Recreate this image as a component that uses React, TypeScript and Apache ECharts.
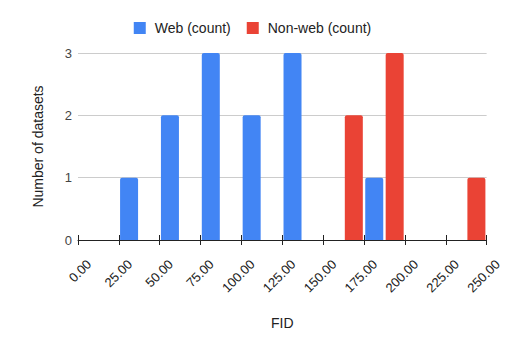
import React, { useEffect, useRef } from "react";
import * as echarts from "echarts";

const bucketSize = 12.5;
const webBucketStarts = [25, 50, 75, 100, 125, 175];
const webCounts = [1, 2, 3, 2, 3, 1];
const nonWebBucketStarts = [162.5, 187.5, 237.5];
const nonWebCounts = [2, 3, 1];
const xTicks = [0, 25, 50, 75, 100, 125, 150, 175, 200, 225, 250];
const yTicks = [0, 1, 2, 3];
const seriesNames = ["Web (count)", "Non-web (count)"];

export default function App() {
  const ref = useRef<HTMLDivElement>(null);
  useEffect(() => {
    document.body.style.margin = "0";
    const chart = echarts.init(ref.current!, null, { renderer: "svg" });
    const font = "'Liberation Sans', Arial, sans-serif";
    const webData = webBucketStarts.map((s, i) => [s + bucketSize / 2, webCounts[i]]);
    const nonWebData = nonWebBucketStarts.map((s, i) => [s + bucketSize / 2, nonWebCounts[i]]);
    const xMin = xTicks[0];
    const xMax = xTicks[xTicks.length - 1];
    const xInterval = xTicks[1] - xTicks[0];
    chart.setOption({
      animation: false,
      textStyle: { fontFamily: font },
      legend: {
        top: 16,
        left: "center",
        icon: "rect",
        itemWidth: 12,
        itemHeight: 12,
        itemGap: 16,
        textStyle: { fontSize: 14, color: "#222", padding: [0, 0, 0, 4], fontFamily: font },
        data: seriesNames,
      },
      grid: { left: 78, right: 18, top: 53, bottom: 111, containLabel: false },
      xAxis: [
        {
          type: "value",
          min: xMin,
          max: xMax,
          interval: xInterval,
          name: "FID",
          nameLocation: "middle",
          nameGap: 76,
          nameTextStyle: { fontSize: 14, color: "#222", fontFamily: font },
          axisLine: { show: true, lineStyle: { color: "#222", width: 1 } },
          axisTick: { show: true, length: 5, lineStyle: { color: "#222" } },
          axisLabel: {
            rotate: 45,
            fontSize: 13,
            color: "#222",
            margin: 11,
            align: "right",
            verticalAlign: "top",
            lineHeight: 15,
            padding: [8, 0, 0, 0],
            showMinLabel: true,
            showMaxLabel: true,
            formatter: (v: number) => v.toFixed(2),
            fontFamily: font,
          },
          splitLine: { show: false },
        },
        {
          type: "value",
          min: xMin,
          max: xMax,
          interval: xInterval,
          position: "bottom",
          axisLine: { show: false },
          axisTick: { show: true, inside: true, length: 5, lineStyle: { color: "#222" } },
          axisLabel: { show: false },
          splitLine: { show: false },
        },
      ],
      yAxis: {
        type: "value",
        min: yTicks[0],
        max: yTicks[yTicks.length - 1],
        interval: 1,
        name: "Number of datasets",
        nameLocation: "middle",
        nameGap: 33,
        nameRotate: 90,
        nameTextStyle: { fontSize: 14, color: "#222", fontFamily: font },
        axisLine: { show: false },
        axisTick: { show: false },
        axisLabel: { fontSize: 13, color: "#444", margin: 6, fontFamily: font },
        splitLine: { show: true, lineStyle: { color: "#ccc", width: 1 } },
      },
      series: [
        {
          name: seriesNames[0],
          type: "bar",
          data: webData,
          barWidth: 18,
          barGap: "-100%",
          itemStyle: { color: "#4285F4", borderRadius: [2, 2, 0, 0] },
        },
        {
          name: seriesNames[1],
          type: "bar",
          data: nonWebData,
          barWidth: 18,
          barGap: "-100%",
          itemStyle: { color: "#EA4335", borderRadius: [2, 2, 0, 0] },
        },
      ],
    });
    return () => chart.dispose();
  }, []);
  return <div ref={ref} style={{ width: 505, height: 351 }} />;
}
